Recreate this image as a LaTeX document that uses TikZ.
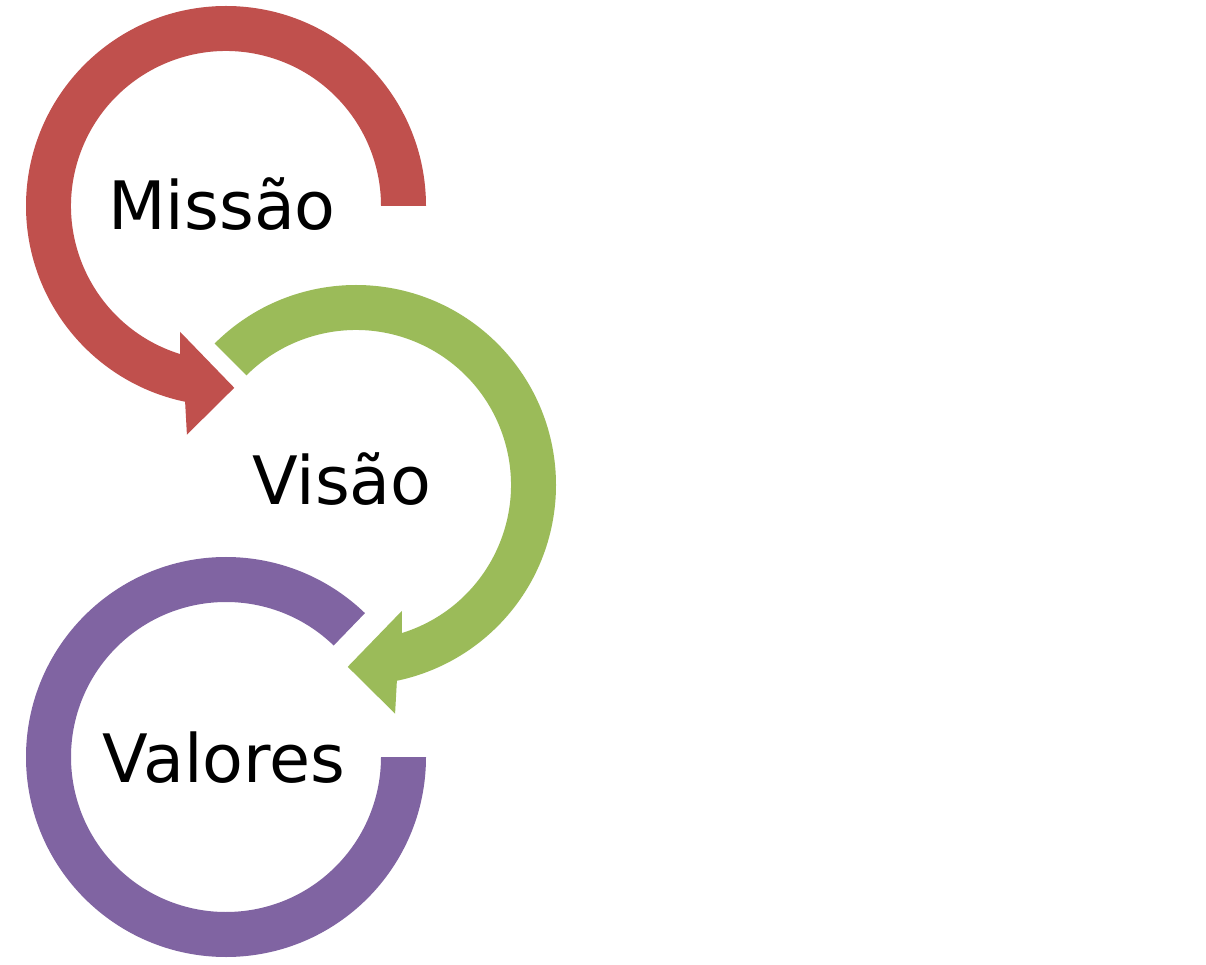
\documentclass[tikz,border=0pt]{standalone}
\usepackage{fontspec}
\setmainfont{DejaVu Sans}
\definecolor{ringred}{HTML}{C0504D}
\definecolor{ringgreen}{HTML}{9BBB59}
\definecolor{ringpurple}{HTML}{8064A2}
\begin{document}
\begin{tikzpicture}[x=0.02cm,y=0.02cm,
  label text/.style={anchor=base,inner sep=0pt,font=\fontsize{38}{44}\selectfont,text=black}]
\useasboundingbox (0,0) rectangle (1206,964);
\fill[white] (0,0) rectangle (1206,964);
% ring centres
\coordinate (rc) at (226,758);
\coordinate (gc) at (356,479);
\coordinate (pc) at (226,207);
% first ring: counter-clockwise with arrowhead at the bottom
\begin{scope}[shift={(rc)}]
  \fill[ringred] (0:200) arc[start angle=0,end angle=258.2,radius=200]
    -- (260.3:232) -- (272.6:182) -- (250:134) -- (252.8:155)
    arc[start angle=252.8,end angle=0,radius=155] -- cycle;
\end{scope}
% second ring: clockwise with arrowhead at the bottom
\begin{scope}[shift={(gc)}]
  \fill[ringgreen] (135:200) arc[start angle=135,end angle=-78.2,radius=200]
    -- (-80.3:232) -- (-92.6:182) -- (-70:134) -- (-72.8:155)
    arc[start angle=-72.8,end angle=135,radius=155] -- cycle;
\end{scope}
% third ring: clockwise, open at the upper right
\begin{scope}[shift={(pc)}]
  \fill[ringpurple] (0:200) arc[start angle=0,end angle=-314,radius=200]
    -- (46:155) arc[start angle=-314,end angle=0,radius=155] -- cycle;
\end{scope}
% labels
\node[label text] (mission) at (222,734) {Missão};
\node[label text] (vision) at (342,459) {Visão};
\node[label text] (values) at (224,182) {Valores};
\end{tikzpicture}
\end{document}
